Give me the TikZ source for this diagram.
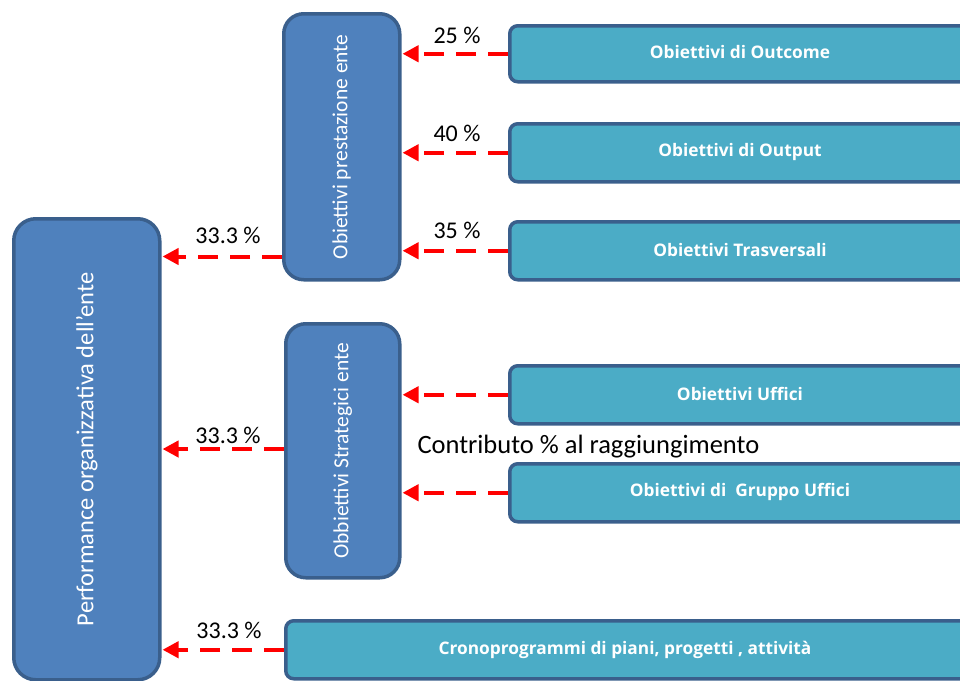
\documentclass[tikz,border=0pt]{standalone}
\usepackage{fontspec}
\setmainfont{Carlito}
\newfontfamily\boxfont{Open Sans}
\usetikzlibrary{arrows.meta}
\definecolor{bfill}{HTML}{4F81BD}
\definecolor{bdraw}{HTML}{3A5F8C}
\definecolor{cfill}{HTML}{4BACC6}
\definecolor{redarr}{HTML}{FF0000}
\tikzset{
  bluebox/.style={draw=bdraw, fill=bfill, line width=3.5pt, rounded corners=20pt, anchor=north west, inner sep=0pt},
  cyanbox/.style={draw=bdraw, fill=cfill, line width=3.5pt, rounded corners=8pt, anchor=north west, inner sep=0pt},
  boxtext/.style={text=white, font=\boxfont\bfseries\fontsize{17.3}{20}\selectfont},
  vtext/.style={text=white, rotate=90, font=\fontsize{21.5}{25}\selectfont},
  pct/.style={font=\fontsize{24}{28}\selectfont, text=black},
  arr/.style={draw=redarr, line width=4pt, dash pattern=on 20pt off 12pt, -{Triangle[length=16pt,width=16pt]}, shorten >=1pt}
}
\begin{document}
\begin{tikzpicture}[x=1pt,y=-1pt]
\useasboundingbox (0,0) rectangle (960,680);
% left
\node[bluebox, rounded corners=22pt, minimum width=146pt, minimum height=461pt] (perf) at (12,217) {};
\node[vtext, font=\fontsize{24.5}{28}\selectfont] (perft) at (perf.center) {Performance organizzativa dell’ente};
% middle
\node[bluebox, minimum width=116pt, minimum height=266pt] (prest) at (282,12) {};
\node[vtext] (prestt) at (prest.center) {Obiettivi prestazione ente};
\node[bluebox, minimum width=114pt, minimum height=254pt] (strat) at (284,322) {};
\node[vtext] (stratt) at (strat.center) {Obbiettivi Strategici ente};
% right
\node[cyanbox, minimum width=480pt, minimum height=56pt] (outc) at (508,24) {};
\node[boxtext] (outct) at (740,52) {Obiettivi di Outcome};
\node[cyanbox, minimum width=480pt, minimum height=58pt] (outp) at (508,122) {};
\node[boxtext] (outpt) at (740,152) {Obiettivi di Output};
\node[cyanbox, minimum width=480pt, minimum height=58pt] (tras) at (508,220) {};
\node[boxtext] (trast) at (740,250) {Obiettivi Trasversali};
\node[cyanbox, minimum width=480pt, minimum height=58pt] (uff) at (508,364) {};
\node[boxtext] (ufft) at (740,394) {Obiettivi Uffici};
\node[cyanbox, minimum width=480pt, minimum height=58pt] (grup) at (508,462) {};
\node[boxtext] (grupt) at (740,492) {Obiettivi di\ \ Gruppo Uffici};
\node[cyanbox, minimum width=700pt, minimum height=58pt] (cron) at (284,619) {};
\node[boxtext] (cront) at (625,650) {Cronoprogrammi di piani, progetti , attività};
% arrows
\draw[arr] (outc.west) -- (outc.west -| prest.east);
\draw[arr] (outp.west) -- (outp.west -| prest.east);
\draw[arr] (tras.west) -- (tras.west -| prest.east);
\draw[arr] (uff.west) -- (uff.west -| strat.east);
\draw[arr] (grup.west) -- (grup.west -| strat.east);
\coordinate (p1) at ([yshift=25pt]prest.south west);
\draw[arr] (p1) -- (p1 -| perf.east);
\coordinate (p2) at (284,449);
\draw[arr] (p2) -- (p2 -| perf.east);
\draw[arr] (cron.west) -- (cron.west -| perf.east);
% labels
\node[pct] (l1) at (457,35) {25 \%};
\node[pct] (l2) at (457,133) {40 \%};
\node[pct] (l3) at (457,230) {35 \%};
\node[pct] (l4) at (228,235) {33.3 \%};
\node[pct] (l5) at (228,435) {33.3 \%};
\node[pct] (l6) at (229,630) {33.3 \%};
\node[pct, anchor=west, font=\fontsize{26.5}{30}\selectfont] (contr) at (414,447) {Contributo \% al raggiungimento};
\end{tikzpicture}
\end{document}
